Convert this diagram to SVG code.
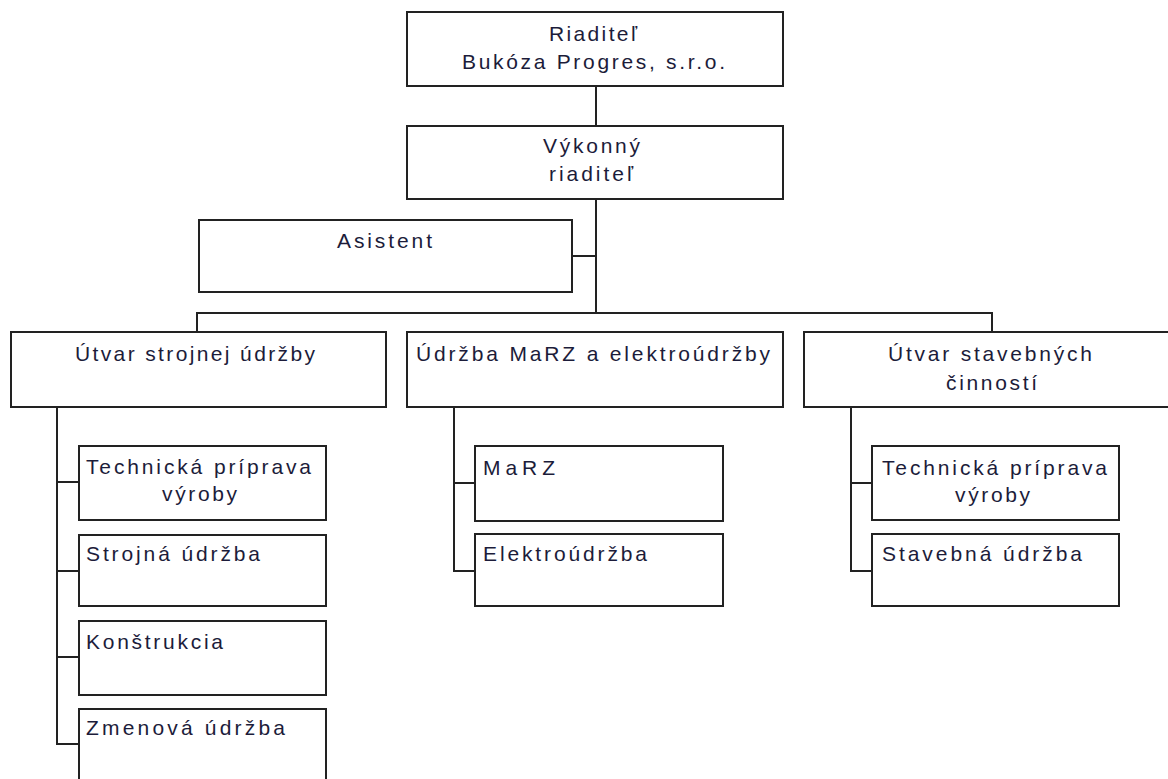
<svg xmlns="http://www.w3.org/2000/svg" width="1168" height="779" viewBox="0 0 1168 779">
<style>
.box{fill:#fff;stroke:#222;stroke-width:2}
.ln{fill:none;stroke:#222;stroke-width:2}
text{font-family:"Liberation Sans",Arial,sans-serif;font-size:21px;fill:#1c1c3a}
</style>
<rect width="1168" height="779" fill="#fff"/>
<g id="connectors">
<path class="ln" d="M596 86V126"/>
<path class="ln" d="M596 199V313"/>
<path class="ln" d="M572 256H596"/>
<path class="ln" d="M197 332V313H992V332"/>
<path class="ln" d="M57 407V744H79"/>
<path class="ln" d="M57 482H79M57 571H79M57 657H79"/>
<path class="ln" d="M454 407V571H475M454 483H475"/>
<path class="ln" d="M851 407V571H872M851 483H872"/>
</g>
<g id="n-riaditel">
<rect class="box" x="407" y="12" width="376" height="74"/>
<text x="549" y="41" textLength="88" lengthAdjust="spacing">Riaditeľ</text>
<text x="462" y="69" textLength="263" lengthAdjust="spacing">Bukóza Progres, s.r.o.</text>
</g>
<g id="n-vykonny">
<rect class="box" x="407" y="126" width="376" height="73"/>
<text x="543" y="153" textLength="97" lengthAdjust="spacing">Výkonný</text>
<text x="549" y="181" textLength="84" lengthAdjust="spacing">riaditeľ</text>
</g>
<g id="n-asistent">
<rect class="box" x="199" y="220" width="373" height="72"/>
<text x="337" y="248" textLength="95" lengthAdjust="spacing">Asistent</text>
</g>
<g id="n-strojna">
<rect class="box" x="11" y="332" width="375" height="75"/>
<text x="75" y="361" textLength="240" lengthAdjust="spacing">Útvar strojnej údržby</text>
</g>
<g id="n-marz-elektro">
<rect class="box" x="407" y="332" width="376" height="75"/>
<text x="416" y="361" textLength="354" lengthAdjust="spacing">Údržba MaRZ a elektroúdržby</text>
</g>
<g id="n-stavebne">
<rect class="box" x="804" y="332" width="370" height="75"/>
<text x="888" y="361" textLength="204" lengthAdjust="spacing">Útvar stavebných</text>
<text x="946" y="390" textLength="91" lengthAdjust="spacing">činností</text>
</g>
<g id="n-tpv1">
<rect class="box" x="79" y="446" width="247" height="74"/>
<text x="86" y="474" textLength="225" lengthAdjust="spacing">Technická príprava</text>
<text x="162" y="501" textLength="75" lengthAdjust="spacing">výroby</text>
</g>
<g id="n-strojna-udrzba">
<rect class="box" x="79" y="535" width="247" height="71"/>
<text x="86" y="561" textLength="174" lengthAdjust="spacing">Strojná údržba</text>
</g>
<g id="n-konstrukcia">
<rect class="box" x="79" y="621" width="247" height="74"/>
<text x="86" y="649" textLength="137" lengthAdjust="spacing">Konštrukcia</text>
</g>
<g id="n-zmenova">
<rect class="box" x="79" y="709" width="247" height="90"/>
<text x="86" y="735" textLength="199" lengthAdjust="spacing">Zmenová údržba</text>
</g>
<g id="n-marz">
<rect class="box" x="475" y="446" width="248" height="75"/>
<text x="483" y="475" textLength="72" lengthAdjust="spacing">MaRZ</text>
</g>
<g id="n-elektro">
<rect class="box" x="475" y="534" width="248" height="72"/>
<text x="483" y="561" textLength="164" lengthAdjust="spacing">Elektroúdržba</text>
</g>
<g id="n-tpv2">
<rect class="box" x="872" y="446" width="247" height="74"/>
<text x="882" y="475" textLength="225" lengthAdjust="spacing">Technická príprava</text>
<text x="955" y="502" textLength="75" lengthAdjust="spacing">výroby</text>
</g>
<g id="n-stavebna-udrzba">
<rect class="box" x="872" y="534" width="247" height="72"/>
<text x="882" y="561" textLength="200" lengthAdjust="spacing">Stavebná údržba</text>
</g>
</svg>
